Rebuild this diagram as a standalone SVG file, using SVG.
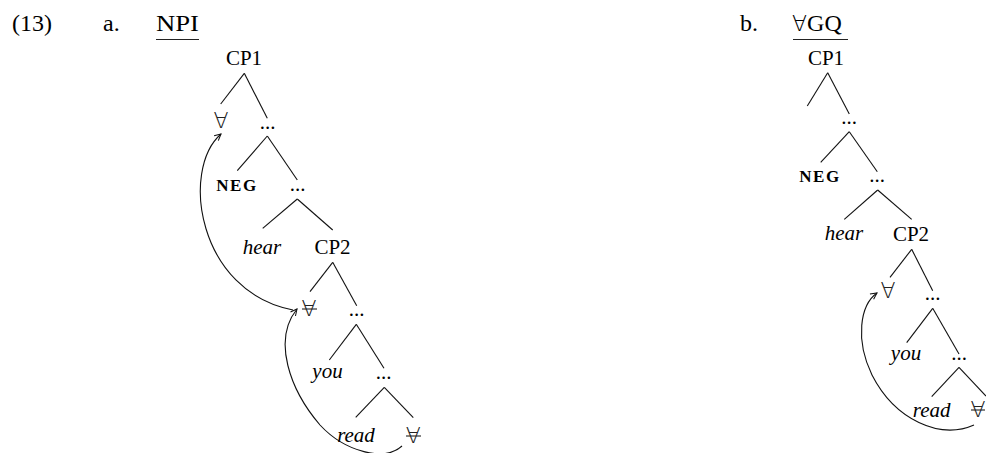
<svg xmlns="http://www.w3.org/2000/svg" width="986" height="453" viewBox="0 0 986 453" font-family="'Liberation Serif', 'Times New Roman', serif">
<style>
  text { font-family: "Liberation Serif", "Times New Roman", serif; fill: #000; }
  .hd { font-size: 24px; }
  .lb { font-size: 21px; text-anchor: middle; }
  .it { font-style: italic; }
  .neg { font-size: 17px; font-weight: bold; letter-spacing: 1.5px; text-anchor: middle; }
  .q { font-family: "DejaVu Sans", sans-serif; font-weight: 200; font-size: 22px; text-anchor: middle; fill: #222; }
  .edge { stroke: #111; stroke-width: 1.1; fill: none; }
  .strike { stroke: #222; stroke-width: 1.1; }
  .mv { stroke: #111; stroke-width: 1.1; fill: none; marker-end: url(#ah); }
</style>
<defs>
  <marker id="ah" viewBox="0 0 10 10" refX="9" refY="5" markerWidth="8" markerHeight="8" markerUnits="userSpaceOnUse" orient="auto">
    <path d="M1,1 L9,5 L1,9" fill="none" stroke="#111" stroke-width="1.3"/>
  </marker>
</defs>

<g id="headings">
  <text class="hd" x="12" y="31">(13)</text>
  <text class="hd" x="103" y="31">a.</text>
  <text class="hd" x="156" y="31" textLength="43" lengthAdjust="spacingAndGlyphs">NPI</text>
  <line x1="156" y1="39.5" x2="199" y2="39.5" class="strike"/>
  <text class="hd" x="740" y="31">b.</text>
  <text class="hd" x="792" y="31"><tspan font-family="DejaVu Sans, sans-serif" font-weight="200" font-size="22">∀</tspan>GQ</text>
  <line x1="793" y1="39.5" x2="848" y2="39.5" class="strike"/>
</g>

<g id="edges">
  <line class="edge" x1="244.3" y1="73.3" x2="220.7" y2="104"/>
  <line class="edge" x1="244.3" y1="73.3" x2="267.3" y2="118.3"/>
  <line class="edge" x1="267.3" y1="136" x2="237.3" y2="170.7"/>
  <line class="edge" x1="267.3" y1="136" x2="297.3" y2="180"/>
  <line class="edge" x1="297.3" y1="199" x2="262.7" y2="228.3"/>
  <line class="edge" x1="297.3" y1="199" x2="332.7" y2="230"/>
  <line class="edge" x1="332.7" y1="262.3" x2="310" y2="291.7"/>
  <line class="edge" x1="332.7" y1="262.3" x2="356.7" y2="305.7"/>
  <line class="edge" x1="356.3" y1="324.3" x2="329.3" y2="360"/>
  <line class="edge" x1="356.3" y1="324.3" x2="384" y2="368.3"/>
  <line class="edge" x1="384.3" y1="387.3" x2="355.7" y2="417.3"/>
  <line class="edge" x1="384.3" y1="387.3" x2="413.3" y2="417.7"/>

  <line class="edge" x1="827.7" y1="72.7" x2="807.3" y2="106"/>
  <line class="edge" x1="827.7" y1="72.7" x2="849.3" y2="114"/>
  <line class="edge" x1="849.3" y1="131.7" x2="820.7" y2="162.3"/>
  <line class="edge" x1="849.3" y1="131.7" x2="877.3" y2="171.7"/>
  <line class="edge" x1="877.7" y1="190" x2="844.3" y2="219.3"/>
  <line class="edge" x1="877.7" y1="190" x2="911.7" y2="219.3"/>
  <line class="edge" x1="911.7" y1="249.3" x2="890" y2="277.3"/>
  <line class="edge" x1="911.7" y1="249.3" x2="932.7" y2="290.7"/>
  <line class="edge" x1="932.7" y1="308.3" x2="906.7" y2="342.7"/>
  <line class="edge" x1="932.7" y1="308.3" x2="959" y2="354"/>
  <line class="edge" x1="959" y1="367.3" x2="931.7" y2="396.7"/>
  <line class="edge" x1="959" y1="367.3" x2="986" y2="396"/>
</g>

<g id="movement">
  <path class="mv" d="M402 446 C385 462 345 452 320 425 C290 390 272 340 297 309"/>
  <path class="mv" d="M293 310 C198 292 180 170 221 134"/>
  <path class="mv" d="M974 425 C940 440 895 420 872 375 C855 340 860 305 877 293"/>
</g>

<!-- Tree a -->
<g id="a-CP1"><text class="lb" x="244" y="65">CP1</text></g>
<g id="a-Q1"><text class="q" x="221" y="128">∀</text></g>
<g id="a-X1"><text class="lb" x="267.5" y="129">...</text></g>
<g id="a-NEG"><text class="neg" x="237" y="190.5">NEG</text></g>
<g id="a-X2"><text class="lb" x="297.5" y="190.5">...</text></g>
<g id="a-hear"><text class="lb it" x="262" y="253.5">hear</text></g>
<g id="a-CP2"><text class="lb" x="332.5" y="254">CP2</text></g>
<g id="a-Q2"><text class="q" x="309" y="316">∀</text><line class="strike" x1="302" y1="309" x2="317" y2="309"/></g>
<g id="a-X3"><text class="lb" x="356.5" y="316">...</text></g>
<g id="a-you"><text class="lb it" x="327.5" y="377.5">you</text></g>
<g id="a-X4"><text class="lb" x="383.7" y="379">...</text></g>
<g id="a-read"><text class="lb it" x="356" y="441.5">read</text></g>
<g id="a-Q3"><text class="q" x="413.3" y="443">∀</text><line class="strike" x1="406" y1="436" x2="421" y2="436"/></g>

<!-- Tree b -->
<g id="b-CP1"><text class="lb" x="826" y="65">CP1</text></g>
<g id="b-X1"><text class="lb" x="849" y="124">...</text></g>
<g id="b-NEG"><text class="neg" x="820" y="182">NEG</text></g>
<g id="b-X2"><text class="lb" x="877" y="182.3">...</text></g>
<g id="b-hear"><text class="lb it" x="844" y="240">hear</text></g>
<g id="b-CP2"><text class="lb" x="911" y="240.5">CP2</text></g>
<g id="b-Q1"><text class="q" x="888" y="298">∀</text></g>
<g id="b-X3"><text class="lb" x="932.5" y="300">...</text></g>
<g id="b-you"><text class="lb it" x="906" y="360">you</text></g>
<g id="b-X4"><text class="lb" x="959" y="360">...</text></g>
<g id="b-read"><text class="lb it" x="931.7" y="416.7">read</text></g>
<g id="b-Q2"><text class="q" x="978" y="417">∀</text><line class="strike" x1="971" y1="410" x2="985" y2="410"/></g>
</svg>
